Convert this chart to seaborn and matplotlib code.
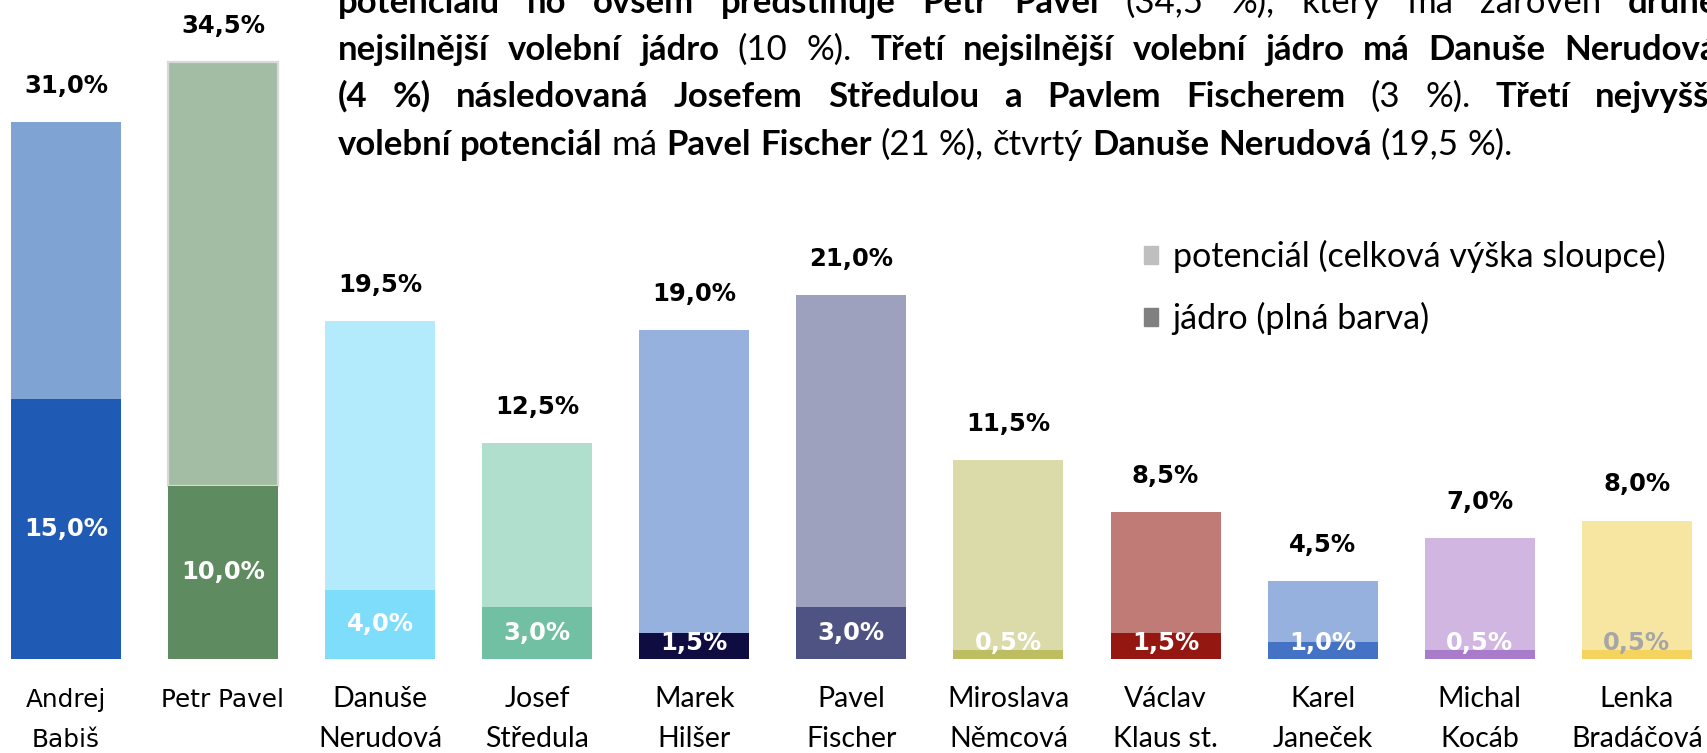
import matplotlib
matplotlib.use("Agg")
from matplotlib import pyplot as plt
from matplotlib.patches import Patch
from matplotlib.transforms import IdentityTransform
import pandas as pd
import seaborn as sns

# Data
names = ["Andrej\nBabiš", "Petr Pavel", "Danuše\nNerudová", "Josef\nStředula", "Marek\nHilšer",
         "Pavel\nFischer", "Miroslava\nNěmcová", "Václav\nKlaus st.", "Karel\nJaneček",
         "Michal\nKocáb", "Lenka\nBradáčová"]
potential = [31.0, 34.5, 19.5, 12.5, 19.0, 21.0, 11.5, 8.5, 4.5, 7.0, 8.0]
core = [15.0, 10.0, 4.0, 3.0, 1.5, 3.0, 0.5, 1.5, 1.0, 0.5, 0.5]

light_colors = ["#7FA3D3", "#A3BDA4", "#B3EAFC", "#B1DFCE", "#97B1DF", "#9DA1BE",
                "#DBDAA9", "#C17B77", "#97B1DF", "#D1B6E1", "#F7E6A2"]
dark_colors = ["#1F5BB4", "#5E8C60", "#7FDDFC", "#72C0A3", "#0F0C42", "#4F5383",
               "#BDBE62", "#941711", "#4473C5", "#A87BCB", "#F4D45E"]
inner_text_colors = ["white"] * 10 + ["#A6A6A6"]

legend_labels = ["potenciál (celková výška sloupce)", "jádro (plná barva)"]

paragraph = [
    [("potenciálu ho ovšem předstihuje Petr Pavel", True), ("(34,5 %), který má zároveň", False), ("druhé", True)],
    [("nejsilnější volební jádro", True), ("(10 %).", False),
     ("Třetí nejsilnější volební jádro má Danuše Nerudová", True)],
    [("(4 %) následovaná Josefem Středulou a Pavlem Fischerem", True), ("(3 %).", False), ("Třetí nejvyšší", True)],
    [("volební potenciál", True), ("má", False), ("Pavel Fischer", True), ("(21 %), čtvrtý", False),
     ("Danuše Nerudová", True), ("(19,5 %).", False)],
]

df = pd.DataFrame({"name": names, "potential": potential, "core": core})

W, H = 1708, 753
fig = plt.figure(figsize=(W / 100, H / 100), dpi=100)
ax = fig.add_axes([0, 94 / H, 1, 659 / H])

# potential bars (full height), then core bars on top
sns.barplot(data=df, x="name", y="potential", hue="name", palette=light_colors,
            saturation=1, width=0.70, legend=False, ax=ax, linewidth=0)
n_light = len(ax.containers)
sns.barplot(data=df, x="name", y="core", hue="name", palette=dark_colors,
            saturation=1, width=0.70, legend=False, ax=ax, linewidth=0)

# make the light part a stacked segment above the core
for i, cont in enumerate(ax.containers[:n_light]):
    p = cont.patches[0]
    p.set_y(core[i])
    p.set_height(potential[i] - core[i])
ax.containers[1].patches[0].set_edgecolor("#D9D9D9")
ax.containers[1].patches[0].set_linewidth(1.6)

ax.set_xlim(-0.4195, 10.453)
ax.set_ylim(0, 38.07)
ax.set_axis_off()

for i in range(len(names)):
    ax.annotate(f"{potential[i]:.1f}%".replace(".", ","), xy=(i, potential[i]),
                xytext=(0, 26), textcoords="offset points", ha="center", va="center",
                fontsize=17.5, fontweight="bold", family="DejaVu Sans", color="black")
    ax.text(i, max(core[i] / 2, 0.9), f"{core[i]:.1f}%".replace(".", ","), ha="center", va="center",
            fontsize=17.5, fontweight="bold", family="DejaVu Sans", color=inner_text_colors[i])
    fam = "DejaVu Sans" if i < 2 else "Lato"
    size = 17.8 if i < 2 else 20.5
    for k, part in enumerate(names[i].split("\n")):
        ax.annotate(part, xy=(i, 0), xytext=(0, -(48 + 40 * k) * 0.72), textcoords="offset points",
                    ha="center", va="baseline", fontsize=size, family=fam, color="black")

# legend
handles = [Patch(color="#BFBFBF"), Patch(color="#808080")]
fig.legend(handles, legend_labels, loc="upper left", bbox_to_anchor=(1144 / W, 1 - 240 / H),
           frameon=False, prop={"family": "Lato", "size": 24.5},
           handlelength=0.42, handleheight=0.42, handletextpad=0.42, labelspacing=0.85,
           borderpad=0, borderaxespad=0)

# paragraph (justified lines, partly cut off at the top and right)
renderer = fig.canvas.get_renderer()


def text_width(s, bold, fs):
    t = fig.text(0, 0, s, fontsize=fs, fontweight="bold" if bold else "normal", family="Lato")
    w = t.get_window_extent(renderer).width
    t.remove()
    return w


left, right = 338, 1718
baselines = [13, 60, 107, 155]
fs = 25.0
for _ in range(10):
    ok = True
    for line in paragraph[:3]:
        words = [(w, b) for s, b in line for w in s.split(" ")]
        total = sum(text_width(w, b, fs) for w, b in words) + (len(words) - 1) * 0.2 * fs * 1.389
        if total > right - left:
            ok = False
    if ok:
        break
    fs *= 0.98

space = text_width("a a", False, fs) - text_width("aa", False, fs)
for k, line in enumerate(paragraph):
    words = [(w, b) for s, b in line for w in s.split(" ")]
    widths = [text_width(w, b, fs) for w, b in words]
    if k < 3:
        gap = (right - left - sum(widths)) / (len(words) - 1)
    else:
        gap = space
    x = left
    for (w, b), wd in zip(words, widths):
        fig.text(x, H - baselines[k], w, transform=IdentityTransform(), fontsize=fs,
                 fontweight="bold" if b else "normal", family="Lato", ha="left", va="baseline")
        x += wd + gap

fig.savefig("out.png", dpi=100)
